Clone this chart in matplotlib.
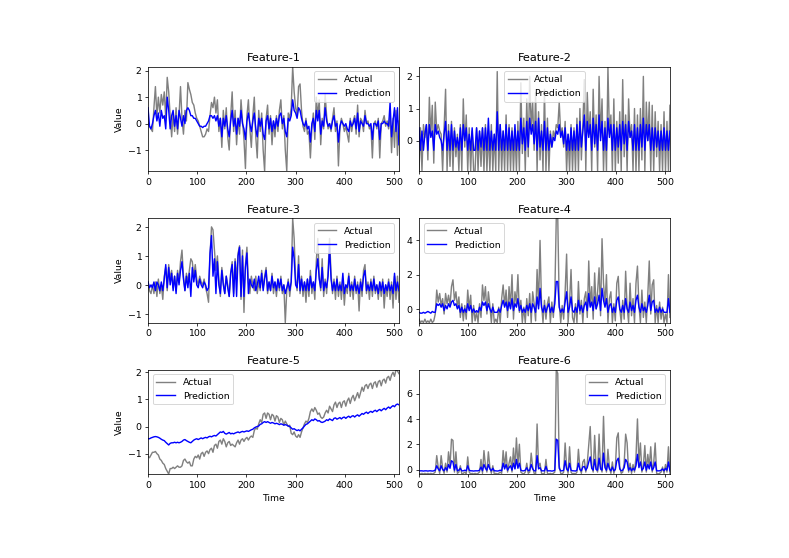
import numpy as np
import matplotlib.pyplot as plt

# values every 3rd time step (t = 0, 3, 6, ... 510)
step = 3

f1_actual = [0.0, -0.1, -0.2, -0.3, 0.6, 1.4, 0.3, 1.0, 0.4, 1.1,
             0.7, 1.2, 0.2, 1.75, 1.2, 0.3, -0.5, 0.4, -0.3, 0.6,
             -0.4, 0.3, 1.4, 0.2, -0.4, 0.5, 0.1, 1.55, 1.3, 1.1,
             0.8, 0.7, 0.4, 0.2, 0.1, -0.1, -0.3, -0.5, -0.5, -0.4,
             -0.2, -0.3, 0.3, 0.8, 0.6, 1.0, 0.4, 0.9, -0.3, 0.2,
             -0.9, 0.5, -0.2, 0.6, -0.5, -1.0, 0.3, 1.2, -0.3, 0.5,
             -0.8, 0.2, -0.4, 0.9, 0.1, -0.6, -1.7, 0.3, 0.9, -0.2,
             -0.9, 0.3, 1.0, -0.5, -1.3, 0.5, -0.3, 0.4, -1.0, -1.8,
             0.2, 0.7, -0.4, 0.3, -0.8, 0.1, -0.5, 0.3, -0.3, 0.5,
             0.9, -0.2, 0.3, -1.0, -1.8, 0.4, 0.2, 0.6, 2.15, 1.2,
             0.6, 0.3, 1.4, 1.5, 0.5, -0.1, -0.3, 0.2, -0.4, -0.3,
             -1.3, -0.2, 0.4, -0.6, 1.0, 0.3, 0.9, -0.8, 0.2, -0.2,
             1.1, 0.3, -0.2, 0.0, -0.3, 0.2, 0.6, -0.3, 0.1, -1.6,
             -0.2, 0.2, 0.0, -0.3, -0.1, -0.4, -0.7, 0.2, -0.3, 0.1,
             0.3, -0.4, 0.7, -0.5, 0.2, 0.1, -0.3, 0.5, 0.0, 0.1,
             -0.2, -0.1, -1.3, 0.0, 0.1, -0.2, 0.2, -1.3, 0.0, 0.1,
             0.3, -0.1, 0.1, -0.2, 0.4, -1.1, 0.2, -0.9, 0.5, -1.2,
             0.1]
f1_pred = [0.6, -0.1, -0.2, 0.0, 0.3, 0.5, 0.1, 0.4, -0.1, 0.5,
           0.2, 0.3, -0.2, 1.0, 0.5, -0.2, 0.3, 0.5, -0.1, 0.3,
           -0.2, 0.5, 0.2, -0.1, 0.3, 0.0, 0.5, 0.6, 0.5, 0.3,
           0.3, 0.2, 0.2, 0.1, 0.0, -0.1, -0.1, -0.15, -0.1, -0.1,
           0.0, 0.1, 0.3, 0.3, 0.2, 0.3, 0.1, 0.3, -0.1, 0.2,
           -0.5, 0.2, -0.1, 0.3, -0.2, -0.5, 0.1, 0.5, -0.1, 0.2,
           -0.4, 0.2, -0.1, 0.5, 0.0, -0.2, -0.6, 0.1, 0.4, 0.0,
           -0.3, 0.1, 0.4, -0.2, -0.5, 0.2, -0.1, 0.2, -0.4, -0.6,
           0.1, 0.3, -0.2, 0.2, -0.3, 0.1, -0.2, 0.2, -0.1, 0.3,
           0.4, 0.0, 0.2, -0.3, -0.5, 0.2, 0.1, 0.3, 0.9, 0.5,
           0.4, 0.2, 0.6, 0.5, 0.2, 0.0, -0.1, 0.1, -0.2, -0.1,
           -0.7, 0.0, 0.2, -0.3, 0.5, 0.1, 0.5, -0.4, 0.1, -0.1,
           0.6, 0.1, -0.1, 0.0, -0.2, 0.1, 0.3, -0.1, 0.0, -0.7,
           -0.1, 0.1, 0.0, -0.1, 0.0, -0.2, -0.3, 0.1, -0.1, 0.0,
           0.2, -0.2, 0.4, -0.3, 0.1, 0.0, -0.1, 0.3, 0.0, 0.0,
           -0.1, 0.0, -0.6, 0.0, 0.0, -0.1, 0.1, -0.6, 0.0, 0.0,
           0.1, 0.0, 0.0, -0.1, 0.8, -0.5, 0.1, 0.6, -0.3, 0.6,
           -0.8]

f2_actual = [-0.95, 0.4, -0.95, 0.5, 0.1, 0.5, -0.6, 1.35, 0.2, 1.1,
             -0.7, 1.2, 0.3, 0.5, 0.3, 0.2, -0.95, 0.4, 1.6, -0.95,
             0.5, -0.8, 0.6, -0.95, 0.4, -0.5, 0.2, -0.95, 0.5, -0.95,
             1.3, -0.2, 0.8, -0.95, 0.4, -0.95, 0.3, -0.95, -0.95, 0.4,
             -0.95, 0.3, -0.8, 0.4, -0.95, 0.5, -0.95, 0.3, -0.95, 0.5,
             -0.95, 0.2, -0.95, 2.15, -0.95, 0.5, -0.95, 0.3, -0.95, 0.8,
             -0.95, 0.5, -0.95, 0.4, -0.95, 0.3, -0.95, 0.6, -0.95, 1.8,
             -0.4, 0.7, -0.95, 1.3, -0.5, 2.0, 0.4, 1.2, -0.3, 1.5,
             -0.95, 0.9, -0.6, 0.5, -0.95, 1.6, -0.95, 0.7, -0.95, 0.3,
             -0.2, 0.3, 0.1, 0.5, 0.4, 1.2, 0.2, 0.4, -0.2, 0.6,
             -0.95, 0.2, -0.95, 0.5, -0.95, 0.4, -0.95, 0.7, -0.95, 1.0,
             -0.6, 0.5, 1.9, -0.95, 1.5, 0.2, 0.9, -0.95, 1.6, -0.2,
             0.8, -0.95, 2.0, 0.1, 1.3, -0.95, 0.6, -0.95, 2.3, 0.2,
             0.8, -0.95, 1.3, -0.95, 0.6, -0.7, 0.9, -0.95, 1.9, -0.5,
             0.8, -0.95, 1.3, 0.1, 0.5, -0.95, 1.0, -0.95, 0.8, -0.95,
             1.0, -0.6, 2.0, -0.95, 1.2, 0.0, 1.2, -0.95, 1.1, -0.95,
             0.9, -0.5, 0.6, -0.95, 0.5, -0.95, 0.9, -0.95, 0.6, -0.95,
             1.1]
f2_pred = [0.4, -0.3, 0.3, -0.3, 0.2, 0.5, -0.3, 0.5, 0.1, 0.3,
           -0.3, 0.5, 0.2, 0.3, 0.1, 0.0, -0.3, 0.2, 0.6, -0.3,
           0.3, -0.3, 0.5, -0.3, 0.3, -0.2, 0.1, -0.3, 0.4, -0.3,
           0.5, 0.0, 0.4, -0.3, 0.2, -0.3, 0.4, -0.3, -0.3, 0.4,
           -0.3, 0.3, -0.2, 0.4, -0.3, 0.4, -0.3, 0.7, -0.3, 0.3,
           -0.3, 0.2, -0.3, 0.9, -0.3, 0.5, -0.3, 0.3, -0.3, 0.5,
           -0.3, 0.4, -0.3, 0.3, -0.3, 0.5, -0.3, 0.3, -0.3, 0.7,
           -0.1, 0.4, -0.3, 0.6, -0.2, 0.7, 0.2, 0.5, -0.1, 0.6,
           -0.3, 0.7, -0.2, 0.3, -0.3, 0.6, -0.3, 0.4, -0.3, 0.2,
           -0.2, 0.1, 0.0, 0.3, 0.2, 0.5, 0.1, 0.3, -0.1, 0.4,
           -0.3, 0.2, -0.3, 0.4, -0.3, 0.3, -0.3, 0.5, -0.3, 0.6,
           -0.2, 0.3, 0.8, -0.3, 0.6, 0.1, 0.5, -0.3, 0.7, -0.1,
           0.5, -0.3, 0.8, 0.0, 0.6, -0.3, 0.4, -0.3, 0.7, 0.1,
           0.5, -0.3, 0.5, -0.3, 0.4, -0.2, 0.5, -0.3, 0.6, -0.1,
           0.5, -0.3, 0.6, 0.1, 0.3, -0.3, 0.5, -0.3, 0.4, -0.3,
           0.5, -0.2, 0.7, -0.3, 0.5, 0.0, 0.5, -0.3, 0.4, -0.3,
           0.4, -0.2, 0.3, -0.3, 0.3, -0.3, 0.4, -0.3, 0.3, -0.3,
           0.3]

f3_actual = [0.1, -0.2, -0.3, 0.0, -0.3, 0.1, -0.4, 0.2, -0.3, 0.0,
             -0.5, 0.3, 0.6, -0.2, 0.7, 0.2, 0.5, -0.1, 0.3, -0.2,
             0.5, 0.1, 0.8, 1.2, 0.3, -0.2, 0.4, 0.1, 0.5, 0.9,
             0.8, 0.3, 0.7, 0.2, 0.0, 0.3, 0.1, 0.0, 0.2, -0.1,
             -0.3, -0.6, 1.0, 2.0, 1.9, 1.2, 0.5, 1.0, 0.2, -0.4,
             0.6, 0.1, -0.3, 0.3, 0.0, -0.4, 0.4, 0.8, -0.3, 0.9,
             0.2, 1.1, 1.35, -0.5, 1.2, -0.95, 0.7, 1.3, 0.1, -0.3,
             0.3, 0.0, -0.2, 0.3, -0.3, 0.1, -0.2, 0.5, -0.1, 0.3,
             0.6, -0.3, 0.1, -0.2, 0.4, -0.3, 0.1, -0.4, 0.2, -0.2,
             0.3, -0.3, 0.0, -1.3, -0.2, 0.2, -0.4, 0.1, 2.3, 1.6,
             0.2, -0.2, 1.0, -0.3, 0.3, -0.4, 0.1, -0.6, 0.2, -0.4,
             0.5, -0.3, 0.1, -0.5, 0.8, 1.6, 0.3, -0.2, 0.9, -0.4,
             0.2, -0.3, 0.5, 1.6, 0.4, -0.3, 0.2, -0.5, 0.3, -0.4,
             0.1, -0.5, 0.2, -0.7, 0.0, -0.3, 0.4, -0.4, 0.1, -0.5,
             0.3, -0.3, 0.1, -0.9, 0.2, -0.4, 0.5, 0.7, -0.3, 0.1,
             -0.5, 0.2, -0.4, 0.3, -0.3, 0.0, -0.5, 0.1, -0.4, 0.2,
             -0.8, 0.0, -0.4, 0.2, -0.5, 0.1, -0.8, 0.3, -0.5, 0.3,
             -0.6]
f3_pred = [0.1, -0.1, 0.0, -0.1, 0.1, -0.2, 0.1, 0.0, -0.2, 0.1,
           -0.2, 0.2, 0.7, -0.1, 0.6, 0.0, 0.4, -0.2, 0.3, -0.3,
           0.4, 0.0, 0.5, 0.8, 0.2, -0.2, 0.3, -0.1, 0.4, -0.4,
           0.6, 0.1, 0.5, 0.0, -0.1, 0.2, 0.0, -0.1, 0.1, 0.0,
           -0.2, -0.1, 1.1, 1.7, 0.3, 0.9, -0.3, 0.8, 0.0, -0.3,
           0.5, 0.0, -0.3, 0.3, -0.1, -0.4, 0.4, 0.7, -0.4, 0.8,
           -0.4, 1.0, 1.3, -0.4, 1.0, -0.4, 0.6, 1.1, -0.3, 0.2,
           0.0, -0.1, 0.2, -0.2, 0.0, 0.3, -0.1, 0.4, -0.2, 0.2,
           0.5, -0.2, 0.1, -0.2, 0.3, -0.1, 0.1, -0.2, 0.2, -0.1,
           0.2, -0.2, 0.0, -0.3, -0.1, 0.1, -0.2, 0.1, 1.3, 0.9,
           0.0, -0.1, 0.7, -0.2, 0.2, -0.2, 0.1, -0.2, 0.2, -0.2,
           0.3, -0.1, 0.1, -0.2, 0.5, 0.9, 0.2, -0.1, 0.6, -0.2,
           0.1, -0.1, 0.3, 1.3, 0.2, -0.2, 0.1, -0.2, 0.2, -0.2,
           0.0, -0.2, 0.4, -0.3, 0.0, -0.1, 0.3, -0.2, 0.0, -0.2,
           0.2, -0.2, 0.0, -0.3, 0.1, -0.2, 0.3, 0.5, -0.2, 0.0,
           -0.2, 0.1, -0.2, 0.2, -0.2, 0.0, -0.3, 0.1, -0.2, 0.1,
           -0.3, 0.0, -0.2, 0.1, -0.2, 0.0, -0.3, 0.4, -0.2, 0.1,
           -0.2]

f4_actual = [-0.6, -0.8, -0.7, -0.8, -0.6, -0.8, -0.7, -0.8, -0.6, -0.8,
             -0.7, -0.3, 1.1, 0.4, 0.9, 0.2, 0.6, -0.3, 0.9, 0.3,
             0.8, 0.2, 1.3, 1.7, 0.5, 1.0, 0.1, 0.7, -0.5, 0.3,
             -0.7, 0.2, -0.6, 1.1, 0.0, 0.8, -0.8, 0.2, -0.7, -0.2,
             -0.8, 0.3, -0.5, 1.4, 0.5, 1.3, -0.3, 1.0, 0.2, -0.8,
             0.3, -0.8, -0.6, -0.8, 0.1, -0.8, 0.6, 1.4, 0.2, 1.1,
             -0.5, 1.3, 0.1, 2.0, -0.6, 1.0, 0.3, 2.0, -0.2, 0.5,
             -0.8, 0.1, -0.8, 0.6, -0.4, 0.9, -0.8, 1.0, 0.3, -0.7,
             2.3, 0.2, 4.0, 0.3, -0.8, 0.5, -0.6, 0.3, 0.7, -0.8,
             0.4, -0.5, 0.8, 5.3, 5.3, 0.3, -0.8, 0.2, -0.6, 1.0,
             3.2, -0.8, 0.4, 2.3, -0.5, -0.8, 0.3, -0.8, 1.6, -0.3,
             0.5, -0.8, 0.6, 1.0, -0.5, 2.8, 0.2, 1.3, -0.6, 2.1,
             0.0, 1.0, 2.4, -0.4, 4.1, 1.5, 0.3, 2.0, -0.8, 0.6,
             1.0, -0.8, 0.3, -0.7, 1.5, 1.9, 0.0, -0.8, 0.5, -0.6,
             2.2, 0.1, -0.8, 1.5, -0.4, 0.6, -0.8, 1.5, 2.5, 0.2,
             -0.8, 1.1, -0.5, 0.4, -0.8, 0.8, 2.8, -0.3, 1.4, 1.7,
             -0.8, 0.2, -0.8, 0.4, -0.6, 0.1, -0.8, -0.3, -0.8, 2.0,
             -0.5]
f4_pred = [-0.2, -0.25, -0.25, -0.2, -0.25, -0.2, -0.15, -0.2, -0.25, -0.15,
           -0.2, -0.2, 0.3, 0.2, 0.3, 0.1, 0.3, -0.1, 0.2, 0.0,
           0.3, 0.1, 0.4, 0.5, 0.2, 0.3, 0.0, 0.2, -0.2, 0.1,
           -0.2, 0.0, -0.2, 0.3, -0.1, 0.2, -0.2, 0.0, -0.2, -0.1,
           -0.2, 0.1, -0.1, 0.4, 0.2, 0.4, -0.1, 0.3, 0.0, -0.2,
           0.1, -0.2, -0.2, -0.2, 0.0, -0.2, 0.2, 0.5, 0.1, 0.4,
           -0.1, 0.4, 0.0, 0.6, -0.1, 0.3, 0.1, 0.6, -0.1, 0.2,
           -0.2, 0.0, -0.2, 0.2, -0.1, 0.3, -0.2, 0.3, 0.1, -0.2,
           0.7, 0.0, 1.2, 0.1, -0.2, 0.2, -0.2, 0.1, 0.3, -0.2,
           0.1, -0.2, 0.3, 1.6, 1.6, 0.1, -0.2, 0.0, -0.2, 0.4,
           1.0, -0.2, 0.1, 0.7, -0.1, -0.2, 0.1, -0.2, 0.5, -0.1,
           0.2, -0.2, 0.2, 0.4, -0.1, 0.9, 0.1, 0.4, -0.1, 0.7,
           0.0, 0.3, 0.8, -0.1, 1.2, 0.5, 0.1, 0.6, -0.2, 0.2,
           0.3, -0.2, 0.1, -0.2, 0.5, 0.7, 0.0, -0.2, 0.2, -0.2,
           0.6, 0.0, -0.2, 0.4, -0.1, 0.2, -0.2, 0.5, 0.8, 0.1,
           -0.2, 0.3, -0.1, 0.1, -0.2, 0.2, 0.8, -0.1, 0.4, 0.5,
           -0.2, 0.0, -0.2, 0.1, -0.2, 0.0, -0.2, -0.2, -0.2, 0.6,
           -0.2]

f5_actual = [-1.1, -1.15, -1.05, -0.95, -0.95, -0.92, -1.0, -1.05, -1.2, -1.25,
             -1.35, -1.4, -1.55, -1.65, -1.75, -1.55, -1.55, -1.5, -1.55, -1.5,
             -1.45, -1.5, -1.5, -1.45, -1.25, -1.2, -1.3, -1.35, -1.3, -1.45,
             -1.45, -1.2, -1.1, -1.15, -1.05, -1.2, -1.0, -0.95, -1.1, -0.95,
             -0.9, -1.0, -0.85, -0.8, -0.95, -0.7, -0.65, -0.8, -0.55, -0.5,
             -0.65, -0.45, -0.55, -0.75, -0.6, -0.55, -0.7, -0.65, -0.7, -0.75,
             -0.6, -0.5, -0.65, -0.5, -0.45, -0.55, -0.45, -0.4, -0.5, -0.4,
             -0.35, -0.4, -0.15, -0.05, -0.1, 0.1, 0.25, 0.15, 0.45, 0.5,
             0.3, 0.5, 0.45, 0.25, 0.45, 0.4, 0.2, 0.4, 0.35, 0.15,
             0.3, 0.25, 0.05, 0.2, 0.1, 0.0, 0.05, -0.25, -0.3, -0.2,
             -0.35, -0.4, -0.3, -0.4, -0.2, -0.05, 0.1, 0.2, 0.15, 0.3,
             0.55, 0.65, 0.55, 0.7, 0.6, 0.45, 0.5, 0.35, 0.3, 0.35,
             0.5, 0.6, 0.5, 0.75, 0.65, 0.55, 0.8, 0.9, 0.7, 0.85,
             0.9, 0.7, 0.9, 0.95, 0.75, 0.95, 1.05, 0.85, 1.05, 1.15,
             0.95, 1.1, 1.25, 1.05, 1.25, 1.45, 1.3, 1.5, 1.55, 1.4,
             1.55, 1.6, 1.4, 1.6, 1.65, 1.45, 1.65, 1.7, 1.5, 1.7,
             1.75, 1.6, 1.8, 1.85, 1.7, 1.9, 2.0, 1.85, 2.1, 2.05,
             1.95]
f5_pred = [-0.45, -0.45, -0.42, -0.4, -0.38, -0.37, -0.38, -0.4, -0.43, -0.47,
           -0.5, -0.52, -0.58, -0.63, -0.68, -0.62, -0.6, -0.6, -0.58, -0.6,
           -0.58, -0.6, -0.58, -0.55, -0.5, -0.48, -0.52, -0.55, -0.58, -0.6,
           -0.55, -0.5, -0.47, -0.45, -0.48, -0.45, -0.42, -0.45, -0.42, -0.4,
           -0.42, -0.38, -0.36, -0.38, -0.35, -0.33, -0.35, -0.3, -0.25, -0.2,
           -0.22, -0.18, -0.25, -0.28, -0.25, -0.22, -0.27, -0.25, -0.27, -0.24,
           -0.22, -0.2, -0.23, -0.2, -0.18, -0.2, -0.18, -0.16, -0.18, -0.15,
           -0.12, -0.1, -0.05, -0.02, 0.0, 0.02, 0.08, 0.1, 0.15, 0.18,
           0.15, 0.18, 0.15, 0.12, 0.15, 0.13, 0.1, 0.12, 0.1, 0.07,
           0.1, 0.08, 0.05, 0.07, 0.05, 0.02, 0.0, -0.05, -0.1, -0.08,
           -0.12, -0.15, -0.12, -0.16, -0.1, -0.05, 0.02, 0.08, 0.1, 0.15,
           0.2, 0.25, 0.22, 0.28, 0.25, 0.2, 0.22, 0.17, 0.15, 0.17,
           0.2, 0.25, 0.22, 0.28, 0.25, 0.22, 0.3, 0.32, 0.27, 0.3,
           0.33, 0.28, 0.33, 0.35, 0.3, 0.35, 0.38, 0.33, 0.38, 0.4,
           0.35, 0.4, 0.43, 0.38, 0.43, 0.48, 0.45, 0.5, 0.53, 0.48,
           0.53, 0.56, 0.52, 0.57, 0.6, 0.55, 0.6, 0.63, 0.58, 0.63,
           0.67, 0.62, 0.68, 0.72, 0.67, 0.73, 0.77, 0.73, 0.8, 0.83,
           0.8]

f6_actual = [-0.3, -0.35, -0.3, -0.35, -0.3, -0.35, -0.3, -0.35, -0.3, -0.35,
             -0.3, -0.2, 1.1, 0.2, -0.3, 1.1, 0.1, -0.3, 0.5, -0.2,
             1.4, 0.3, 2.4, 2.3, -0.2, 1.4, -0.3, -0.2, 0.3, -0.35,
             -0.3, -0.2, -0.35, 1.0, -0.2, -0.35, -0.3, -0.35, -0.3, -0.35,
             -0.3, -0.2, 0.8, -0.3, 1.5, 0.3, -0.2, 1.4, 0.2, -0.3,
             0.3, -0.35, -0.3, -0.35, -0.3, -0.2, -0.3, 1.5, 0.2, 1.4,
             -0.2, 0.5, 1.0, -0.2, 1.7, 0.1, 2.5, 0.3, 2.0, -0.2,
             -0.3, -0.35, -0.2, 0.5, -0.3, -0.2, 1.3, 0.2, -0.3, -0.35,
             3.6, 0.2, 0.5, -0.3, -0.35, -0.3, 0.8, -0.3, -0.35, -0.3,
             -0.35, -0.3, -0.2, 7.9, 7.6, 0.3, -0.3, -0.35, -0.2, 2.1,
             0.2, -0.3, 1.8, -0.2, -0.35, -0.3, -0.35, -0.2, 1.6, 0.1,
             -0.3, 0.6, 0.8, -0.2, 0.5, 2.0, 3.4, 0.3, -0.2, 2.7,
             0.1, -0.2, 2.8, 0.2, -0.2, 4.2, 0.5, -0.2, 1.6, 0.2,
             -0.3, 0.6, -0.3, 0.1, 2.5, 2.9, 0.2, -0.3, -0.2, 0.5,
             2.8, 2.1, -0.2, 0.5, -0.3, 0.4, -0.2, 1.0, 4.0, 0.5,
             2.1, -0.2, 0.3, 1.9, -0.2, 1.2, 0.2, 1.8, -0.2, 0.5,
             2.1, -0.3, -0.35, -0.3, -0.2, 0.2, -0.3, 0.4, -0.2, 1.8,
             -0.3]
f6_pred = [-0.1, -0.1, -0.1, -0.12, -0.1, -0.1, -0.12, -0.1, -0.1, -0.12,
           -0.1, -0.05, 0.3, 0.05, -0.1, 0.3, 0.0, -0.1, 0.15, -0.05,
           0.4, 0.1, 0.7, 0.6, -0.05, 0.4, -0.1, -0.05, 0.1, -0.1,
           -0.1, -0.05, -0.1, 0.3, -0.05, -0.1, -0.1, -0.12, -0.1, -0.1,
           -0.1, -0.05, 0.2, -0.1, 0.4, 0.1, -0.05, 0.4, 0.05, -0.1,
           0.1, -0.1, -0.1, -0.12, -0.1, -0.05, -0.1, 0.5, 0.05, 0.4,
           -0.05, 0.15, 0.3, -0.05, 0.5, 0.05, 0.8, 0.1, 0.5, -0.05,
           -0.1, -0.1, -0.05, 0.15, -0.1, -0.05, 0.4, 0.05, -0.1, -0.1,
           1.1, 0.05, 0.15, -0.1, -0.1, -0.1, 0.25, -0.1, -0.1, -0.1,
           -0.12, -0.1, -0.05, 2.4, 2.3, 0.1, -0.1, -0.1, -0.05, 0.7,
           0.05, -0.1, 0.5, -0.05, -0.1, -0.1, -0.12, -0.05, 0.5, 0.0,
           -0.1, 0.2, 0.25, -0.05, 0.15, 0.6, 1.0, 0.1, -0.05, 0.8,
           0.0, -0.05, 0.9, 0.05, -0.05, 1.3, 0.15, -0.05, 0.5, 0.05,
           -0.1, 0.2, -0.1, 0.0, 0.7, 0.9, 0.05, -0.1, -0.05, 0.15,
           0.8, 0.6, -0.05, 0.15, -0.1, 0.1, -0.05, 0.3, 1.2, 0.15,
           0.6, -0.05, 0.1, 0.6, -0.05, 0.4, 0.05, 0.6, -0.05, 0.15,
           0.6, -0.1, -0.1, -0.1, -0.05, 0.05, -0.1, 0.1, -0.05, 0.6,
           -0.1]

titles = ["Feature-1", "Feature-2", "Feature-3", "Feature-4", "Feature-5", "Feature-6"]
actuals = [f1_actual, f2_actual, f3_actual, f4_actual, f5_actual, f6_actual]
preds = [f1_pred, f2_pred, f3_pred, f4_pred, f5_pred, f6_pred]
legend_locs = ["upper right", "upper center", "upper right",
               "upper left", "upper left", "upper right"]
f6_yticks = [0, 2, 4, 6]

# A4 landscape page
fig, axes = plt.subplots(3, 2, figsize=(11.69, 8.27), dpi=67.5)
fig.subplots_adjust(left=0.1876, right=0.849, top=0.880, bottom=0.1505,
                    wspace=0.08, hspace=0.45)

for i, ax in enumerate(axes.flat):
    act = actuals[i]
    pred = preds[i]
    ax.plot(np.arange(len(act)) * step, act, color="gray", label="Actual")
    ax.plot(np.arange(len(pred)) * step, pred, color="blue", label="Prediction")
    ax.margins(0)
    ax.set_title(titles[i])
    ax.legend(loc=legend_locs[i])
    if i % 2 == 0:
        ax.set_ylabel("Value")
    if i >= 4:
        ax.set_xlabel("Time")

axes[2, 1].set_yticks(f6_yticks)

fig.savefig("out.png", dpi=67.5)
